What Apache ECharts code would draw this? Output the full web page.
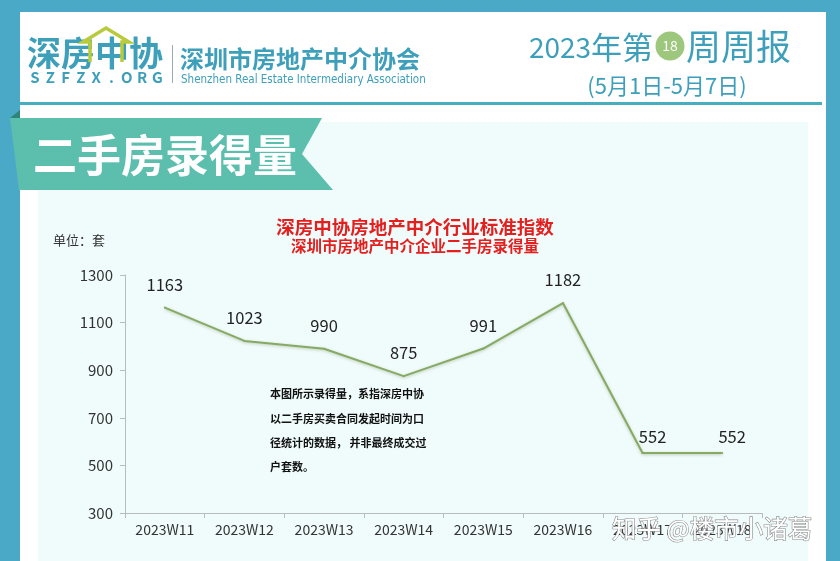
<!DOCTYPE html>
<html><head><meta charset="utf-8">
<script src="https://cdn.jsdelivr.net/npm/echarts@6/dist/echarts.min.js"></script>
<style>html,body{margin:0;padding:0;background:#4aa9c6}#c{width:840px;height:561px}</style>
</head><body><div id="c"></div>
<script>
const categories = ['2023W11','2023W12','2023W13','2023W14','2023W15','2023W16','2023W17','2023W18'];
const values = [1163, 1023, 990, 875, 991, 1182, 552, 552];
const yTicks = [300, 500, 700, 900, 1100, 1300];
const noteLines = ['本图所示录得量，系指深房中协','以二手房买卖合同发起时间为口','径统计的数据， 并非最终成交过','户套数。'];

const F = '"Noto Sans CJK SC","Noto Sans",sans-serif';
const teal = '#3d9fba';
const chart = echarts.init(document.getElementById('c'));
const g = [
  {type:'rect', shape:{x:0,y:0,width:840,height:561}, style:{fill:'#4aa9c6'}, z:-10},
  {type:'rect', shape:{x:20,y:12,width:806,height:549}, style:{fill:'#ffffff'}, z:-9},
  {type:'rect', shape:{x:38,y:122,width:770,height:439}, style:{fill:'#f0fbfb'}, z:-8},
  {type:'rect', shape:{x:20,y:102,width:802,height:3}, style:{fill:'#45afc0'}, z:-7},
  // logo
  {type:'text', style:{text:'深房中协', x:27, y:53, fill:teal, font:'bold 34px '+F, textVerticalAlign:'middle'}},
  {type:'polyline', shape:{points:[[90,62],[90,42],[83,42],[106,28],[129,42],[122,42],[122,62]]}, style:{stroke:'#b9cb3c',lineWidth:3.5,fill:null}, z:5},
  {type:'rect', shape:{x:172,y:45,width:1,height:38}, style:{fill:'#9aaab0'}},
  {type:'text', style:{text:'深圳市房地产中介协会', x:180, y:59, fill:teal, font:'bold 24px '+F, textVerticalAlign:'middle'}},
  {type:'text', style:{text:'Shenzhen Real Estate Intermediary Association', x:181, y:80, fill:teal, font:'11.5px "Liberation Sans Narrow","DejaVu Sans Condensed",sans-serif', textVerticalAlign:'middle'}},
  {type:'text', style:{text:'2023', x:529, y:47, fill:teal, font:'28px '+F, textVerticalAlign:'middle'}},
  {type:'text', style:{text:'年第', x:591, y:47, fill:teal, font:'31px '+F, textVerticalAlign:'middle'}},
  {type:'circle', shape:{cx:670,cy:46,r:14.5}, style:{fill:'#9cc77c'}},
  {type:'text', style:{text:'18', x:670, y:46, fill:'#ffffff', font:'14px '+F, textAlign:'center', textVerticalAlign:'middle'}},
  {type:'text', style:{text:'周周报', x:686, y:47, fill:teal, font:'35px '+F, textVerticalAlign:'middle'}},
  {type:'text', style:{text:'(5月1日-5月7日)', x:667, y:86, fill:teal, font:'22px '+F, textAlign:'center', textVerticalAlign:'middle'}},
  // ribbon
  {type:'polygon', shape:{points:[[10,118],[322,118],[302,154],[333,190],[19,190]]}, style:{fill:'#5cbfae'}},
  {type:'polygon', shape:{points:[[10,118],[20,110],[20,118]]}, style:{fill:'#2c8677'}},
  {type:'text', style:{text:'二手房录得量', x:33, y:155, fill:'#ffffff', font:'bold 44px '+F, textVerticalAlign:'middle'}},
  // chart titles
  {type:'text', style:{text:'深房中协房地产中介行业标准指数', x:415, y:227, fill:'#e4201f', font:'bold 18.5px '+F, textAlign:'center', textVerticalAlign:'middle'}},
  {type:'text', style:{text:'深圳市房地产中介企业二手房录得量', x:415, y:246, fill:'#e4201f', font:'bold 15.5px '+F, textAlign:'center', textVerticalAlign:'middle'}},
  {type:'text', style:{text:'单位：套', x:53, y:240, fill:'#333', font:'13px '+F, textVerticalAlign:'middle'}},
  {type:'text', style:{text:noteLines.join('\n'), x:270, y:382, fill:'#111', font:'bold 11px '+F, lineHeight:24.3}},
  // watermark
  {type:'text', style:{text:'知乎 @楼市小诸葛', x:612, y:529, fill:'#ffffff', stroke:'#8a8a8a', lineWidth:1.2, font:'24.5px '+F, textVerticalAlign:'middle'}, z:100}
];
'SZFZX.ORG'.split('').forEach((ch, i) => {
  g.push({type:'text', style:{text:ch, x:35 + i*15.3, y:77, fill:teal, font:'bold 15px '+F, textAlign:'center', textVerticalAlign:'middle'}});
});

const seriesData = values.map((v, i) => i >= 6 ? {value:v, label:{offset:[10, 7]}} : v);

chart.setOption({
  animation:false,
  backgroundColor:'transparent',
  graphic:g,
  grid:{left:125,right:78,top:275,bottom:48},
  xAxis:{type:'category', data:categories, boundaryGap:true,
    axisLine:{lineStyle:{color:'#b8bcbc'}},
    axisTick:{show:true, lineStyle:{color:'#b8bcbc'}, length:5},
    axisLabel:{color:'#333', fontSize:14, fontFamily:F, margin:10}},
  yAxis:{type:'value', min:300, max:1300, interval:200,
    axisLine:{show:true, lineStyle:{color:'#b8bcbc'}},
    axisTick:{show:true, lineStyle:{color:'#b8bcbc'}, length:5},
    splitLine:{show:false},
    axisLabel:{color:'#333', fontSize:15, fontFamily:F, margin:12, formatter:v=>yTicks.includes(v)?String(v):''}},
  series:[{type:'line', data:seriesData, symbol:'circle', symbolSize:2, showSymbol:true,
    itemStyle:{color:'#86a963'},
    lineStyle:{color:'#86a963', width:2, shadowColor:'rgba(90,120,60,0.35)', shadowBlur:3, shadowOffsetY:1},
    label:{show:true, position:'top', distance:14, color:'#222', fontSize:16.5, fontFamily:F}}]
});
</script></body></html>
